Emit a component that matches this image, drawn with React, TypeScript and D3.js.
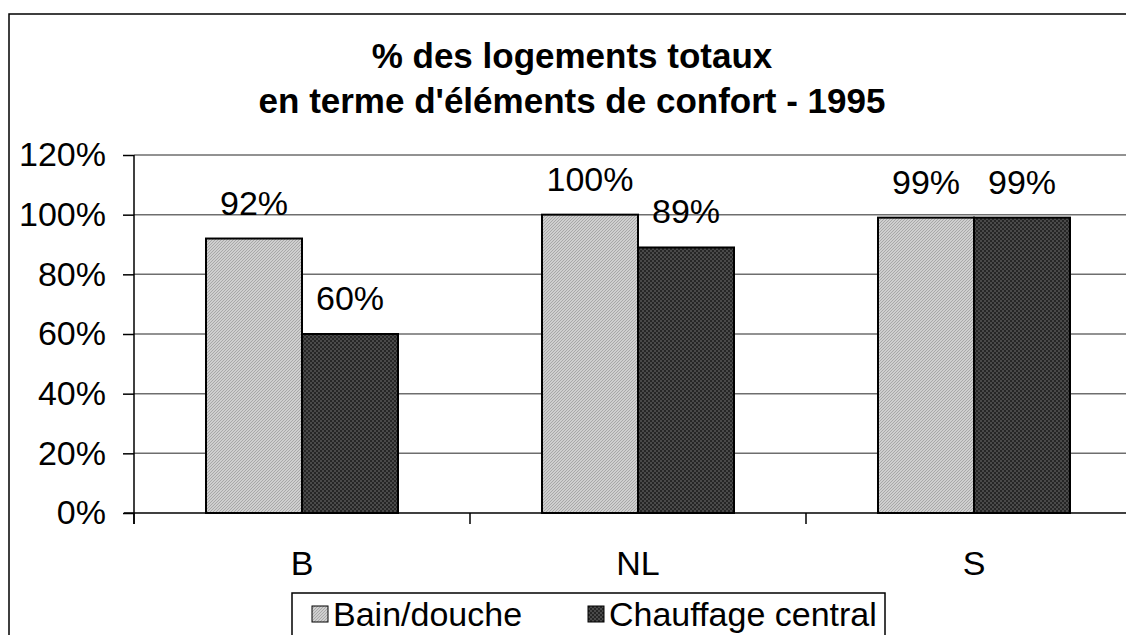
import React, { useEffect, useRef } from "react";
import * as d3 from "d3";

const categories = ["B", "NL", "S"];
const seriesNames = ["Bain/douche", "Chauffage central"];
const bainDouche = [0.92, 1.0, 0.99];
const chauffage = [0.6, 0.89, 0.99];
const yTicks = [0, 0.2, 0.4, 0.6, 0.8, 1.0, 1.2];
const titleLines = ["% des logements totaux", "en terme d'éléments de confort - 1995"];

const FONT = "Liberation Sans, Arial, sans-serif";

export default function App() {
  const ref = useRef<SVGSVGElement>(null);

  useEffect(() => {
    const svg = d3.select(ref.current);
    svg.selectAll("*").remove();

    const defs = svg.append("defs");
    // light hatch for Bain/douche
    const p1 = defs.append("pattern").attr("id", "light").attr("patternUnits", "userSpaceOnUse")
      .attr("width", 3).attr("height", 3);
    p1.append("rect").attr("width", 3).attr("height", 3).attr("fill", "#cfcfcf");
    p1.append("path").attr("d", "M0,3 L3,0 M-1,1 L1,-1 M2,4 L4,2").attr("stroke", "#a8a8a8").attr("stroke-width", 1);
    // dark checker for Chauffage central
    const p2 = defs.append("pattern").attr("id", "dark").attr("patternUnits", "userSpaceOnUse")
      .attr("width", 4).attr("height", 4);
    p2.append("rect").attr("width", 4).attr("height", 4).attr("fill", "#4a4a4a");
    p2.append("rect").attr("width", 2).attr("height", 2).attr("fill", "#262626");
    p2.append("rect").attr("x", 2).attr("y", 2).attr("width", 2).attr("height", 2).attr("fill", "#262626");
    const fills = ["url(#light)", "url(#dark)"];

    // outer frame
    svg.append("rect").attr("x", 9).attr("y", 14).attr("width", 1200).attr("height", 700)
      .attr("fill", "white").attr("stroke", "black").attr("stroke-width", 1.5);

    // title
    svg.append("g").selectAll("text").data(titleLines).join("text")
      .attr("x", 572).attr("y", (d, i) => 68 + i * 45)
      .attr("text-anchor", "middle").attr("font-family", FONT)
      .attr("font-weight", "bold").attr("font-size", 35).text(d => d);

    const x0 = d3.scaleBand().domain(categories).range([134, 1142]);
    const x1 = d3.scaleBand().domain(seriesNames)
      .range([x0.bandwidth() * 0.75 / 3.5, x0.bandwidth() * 2.75 / 3.5]);
    const y = d3.scaleLinear().domain([0, 1.2]).range([513, 155]);

    // gridlines
    svg.append("g").selectAll("line").data(yTicks.filter(d => d > 0)).join("line")
      .attr("x1", 134).attr("x2", 1142).attr("y1", d => y(d)).attr("y2", d => y(d))
      .attr("stroke", "#6e6e6e").attr("stroke-width", 1.5);

    // y axis
    const yAxis = svg.append("g").attr("transform", "translate(134,0)")
      .call(d3.axisLeft(y).tickValues(yTicks).tickFormat(d3.format(".0%")).tickSize(11).tickPadding(17));
    yAxis.select(".domain").remove();
    yAxis.append("line").attr("y1", 155).attr("y2", 524).attr("stroke", "black").attr("stroke-width", 1.5);
    yAxis.selectAll(".tick line").attr("stroke", "black").attr("stroke-width", 1.5);
    yAxis.selectAll(".tick text").attr("font-family", FONT).attr("font-size", 34).attr("fill", "black");

    // bars
    const series = [bainDouche, chauffage];
    const groups = svg.append("g").selectAll("g").data(categories).join("g")
      .attr("transform", d => `translate(${x0(d)},0)`);
    groups.selectAll("rect")
      .data((c, i) => seriesNames.map((s, k) => ({ s, k, v: series[k][i] })))
      .join("rect")
      .attr("x", d => x1(d.s)!).attr("width", x1.bandwidth())
      .attr("y", d => y(d.v)).attr("height", d => y(0) - y(d.v))
      .attr("fill", d => fills[d.k]).attr("stroke", "black").attr("stroke-width", 2);
    groups.selectAll("text")
      .data((c, i) => seriesNames.map((s, k) => ({ s, k, v: series[k][i] })))
      .join("text")
      .attr("x", d => x1(d.s)! + x1.bandwidth() / 2).attr("y", d => y(d.v) - 24)
      .attr("text-anchor", "middle").attr("font-family", FONT).attr("font-size", 34)
      .text(d => d3.format(".0%")(d.v));

    // x axis
    const xAxis = svg.append("g").attr("transform", "translate(0,513)");
    xAxis.append("line").attr("x1", 124).attr("x2", 1142).attr("stroke", "black").attr("stroke-width", 1.5);
    xAxis.selectAll("line.tk").data(d3.range(categories.length + 1)).join("line").attr("class", "tk")
      .attr("x1", i => 134 + i * x0.step()).attr("x2", i => 134 + i * x0.step())
      .attr("y1", 0).attr("y2", 11).attr("stroke", "black").attr("stroke-width", 1.5);
    xAxis.selectAll("text").data(categories).join("text")
      .attr("x", d => x0(d)! + x0.bandwidth() / 2).attr("y", 62)
      .attr("text-anchor", "middle").attr("font-family", FONT).attr("font-size", 34).text(d => d);

    // legend
    const lg = svg.append("g");
    lg.append("rect").attr("x", 292).attr("y", 593).attr("width", 593).attr("height", 80)
      .attr("fill", "white").attr("stroke", "black").attr("stroke-width", 1.5);
    const items = lg.selectAll("g").data(seriesNames).join("g")
      .attr("transform", (d, i) => `translate(${i === 0 ? 312 : 588},606)`);
    items.append("rect").attr("width", 16).attr("height", 16)
      .attr("fill", (d, i) => fills[i]).attr("stroke", "black").attr("stroke-width", 1);
    items.append("text").attr("x", 21).attr("y", 20).attr("font-family", FONT).attr("font-size", 34)
      .text(d => d);
  }, []);

  return (
    <svg ref={ref} width={1126} height={635}
      style={{ position: "absolute", left: 0, top: 0, overflow: "hidden", background: "white" }} />
  );
}
